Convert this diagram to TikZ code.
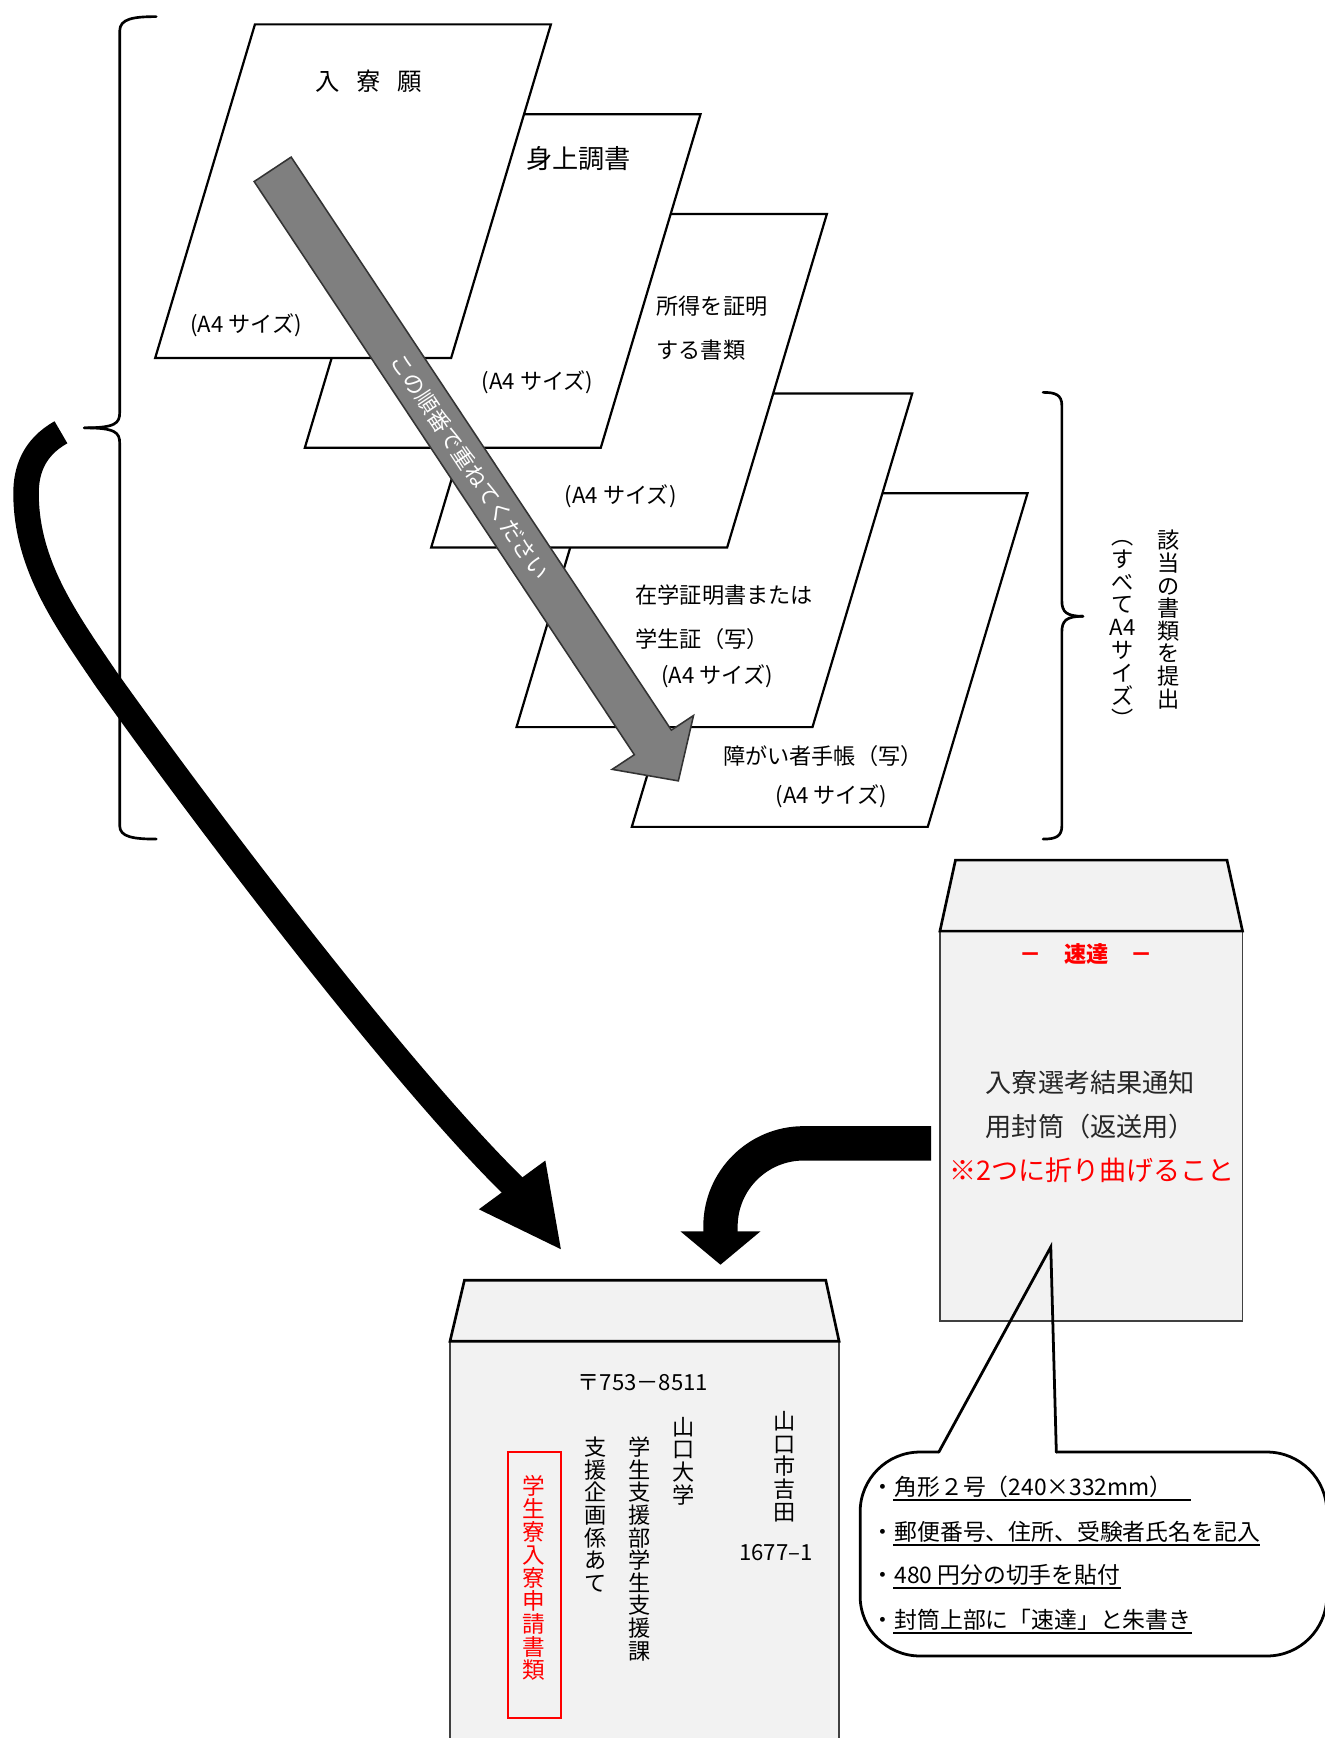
\documentclass[tikz,border=0pt]{standalone}
\usepackage{fontspec}
\setmainfont{Noto Sans CJK JP}
\definecolor{envgray}{HTML}{F2F2F2}
\definecolor{arrowgray}{HTML}{7F7F7F}
\definecolor{redtxt}{HTML}{FF0000}
\definecolor{softblack}{HTML}{262626}
\newcommand{\docsheet}[2]{\filldraw[sheet] (#1,#2) -- ++(267,0) -- ++(-90,301) -- ++(-267,0) -- cycle;}
\begin{document}
\begin{tikzpicture}[x=0.5pt,y=-0.5pt,
  sheet/.style={draw=black,fill=white,line width=1pt,line join=miter},
  lbl/.style={inner sep=0pt,font=\fontsize{10}{12}\selectfont},
  vt/.style={align=center,inner sep=0pt,anchor=north,font=\fontsize{10}{10.2}\selectfont},
  bracket/.style={draw=black,line width=1.2pt,line cap=round},
  envbody/.style={fill=envgray,draw=black!75,line width=0.8pt},
  envflap/.style={fill=envgray,draw=black,line width=1.2pt,line join=miter},
  calloutline/.style={draw=black,line width=1.25pt,line cap=round,line join=miter},
  noteline/.style={inner sep=0pt,anchor=base west,font=\fontsize{10.3}{12}\selectfont},
  uline/.style={draw=black,line width=0.9pt}]
\useasboundingbox (0,0) rectangle (1195,1568);

% ---------- braces ----------
\draw[bracket] (141,15) .. controls (120,15) and (108,17) .. (108,28) -- (108,372) .. controls (108,382) and (104,386) .. (76,386);
\draw[bracket] (76,386) .. controls (104,386) and (108,390) .. (108,400) -- (108,745) .. controls (108,755) and (120,757) .. (141,757);
\draw[bracket] (941,354) .. controls (952,354) and (958,356) .. (958,366) -- (958,542) .. controls (958,552) and (962,556) .. (977,556);
\draw[bracket] (977,556) .. controls (962,556) and (958,560) .. (958,570) -- (958,745) .. controls (958,755) and (952,757) .. (941,757);

% ---------- sheets (back to front) ----------
\docsheet{660}{445}
\docsheet{556}{355}
\docsheet{479}{193}
\docsheet{365}{103}
\docsheet{230}{22}

% sheet 1
\node[lbl,font=\fontsize{11}{13}\selectfont] (s1title) at (333,73) {入\hspace{7.5pt}寮\hspace{7.5pt}願};
\node[lbl] (s1size) at (222,293) {(A4 サイズ)};
% sheet 2
\node[lbl,font=\fontsize{11.8}{13}\selectfont] (s2title) at (522,143) {身上調書};
\node[lbl] (s2size) at (485,345) {(A4 サイズ)};
% sheet 3
\node[lbl,anchor=west] (s3a) at (592,276) {所得を証明};
\node[lbl,anchor=west] (s3b) at (592,316) {する書類};
\node[lbl] (s3size) at (560,448) {(A4 サイズ)};
% sheet 4
\node[lbl,anchor=west] (s4a) at (573,537) {在学証明書または};
\node[lbl,anchor=west] (s4b) at (573,577) {学生証（写）};
\node[lbl] (s4size) at (647,610) {(A4 サイズ)};
% sheet 5
\node[lbl,anchor=west] (s5a) at (652,682) {障がい者手帳（写）};
\node[lbl] (s5size) at (750,718) {(A4 サイズ)};

% ---------- gray order arrow ----------
\filldraw[fill=arrowgray,draw=black!80,line width=0.7pt,line join=miter]
  (262.7,141.7) -- (605.7,658.7) -- (625.7,645.5) -- (612,704.5) -- (552.3,694.1) -- (572.3,680.9) -- (229.3,163.8) -- cycle;
\node[lbl,text=white,rotate=-56.4] (ordertxt) at (424,421) {この順番で重ねてください};

% ---------- right side vertical note ----------
\node[vt] (note1) at (1054,478) {該\\当\\の\\書\\類\\を\\提\\出};
\node[vt,font=\fontsize{10}{10.3}\selectfont] (note2) at (1013,487) {︵\\す\\べ\\て\\A4\\サ\\イ\\ズ\\︶};

% ---------- big curved arrow (documents -> envelope) ----------
\coordinate (bigstart) at (55,390);
\coordinate (bigend) at (466,1073);
\draw[draw=black,line width=11.5pt] (bigstart) .. controls (30,404) and (23.5,425) .. (23.5,445)
   .. controls (23.5,510) and (60,560) .. (96,613)
   .. controls (190,745) and (365,975) .. (bigend);
\fill[black] (432,1091) -- (506,1127) -- (492,1047) -- cycle;

% ---------- return envelope ----------
\filldraw[envbody] (848,840) rectangle (1121,1192);
\filldraw[envflap] (848,840) -- (862,776) -- (1107,776) -- (1121,840) -- cycle;
\node[lbl,text=redtxt,font=\fontsize{10}{12}\selectfont\bfseries] (sokutatsu) at (980,861) {－　速達　－};
\node[lbl,anchor=west,text=softblack,font=\fontsize{11.8}{13}\selectfont] (ret1) at (889,977) {入寮選考結果通知};
\node[lbl,anchor=west,text=softblack,font=\fontsize{11.8}{13}\selectfont] (ret2) at (889,1016) {用封筒（返送用）};
\node[lbl,text=redtxt,font=\fontsize{12.2}{14}\selectfont] (ret3) at (985,1056) {※2つに折り曲げること};

% ---------- small curved arrow (return envelope -> envelope) ----------
\coordinate (smallstart) at (840,1031.5);
\coordinate (smallend) at (650,1113);
\draw[draw=black,line width=15.5pt] (smallstart) -- (725,1031.5)
   .. controls (683.6,1031.5) and (650,1065.1) .. (650,1106.5) -- (smallend);
\fill[black] (614,1111) -- (686,1111) -- (650,1141) -- cycle;

% ---------- main envelope ----------
\filldraw[envbody,line width=1pt] (406,1210) rectangle (757,1585);
\filldraw[envflap] (406,1210) -- (419,1155) -- (745,1155) -- (757,1210) -- cycle;
\node[lbl] (zip) at (580,1247) {〒753－8511};
\node[vt] (addr1) at (707.5,1273) {山\\口\\市\\吉\\田};
\node[lbl] (addr2) at (700,1401) {1677–1};
\node[vt] (univ) at (617,1278) {山\\口\\大\\学};
\node[vt] (dept) at (577,1296) {学\\生\\支\\援\\部\\学\\生\\支\\援\\課};
\node[vt] (sect) at (537.5,1296) {支\\援\\企\\画\\係\\あ\\て};
\draw[draw=redtxt,line width=0.8pt] (458,1310) rectangle (506,1550);
\node[vt,text=redtxt,font=\fontsize{10.2}{10.35}\selectfont] (redlabel) at (482,1331) {学\\生\\寮\\入\\寮\\申\\請\\書\\類};

% ---------- callout ----------
\draw[calloutline,rounded corners=27] (953,1310) -- (1197,1310) -- (1197,1494) -- (776,1494) -- (776,1310) -- (847,1310);
\coordinate (pointertip) at (948,1125);
\draw[calloutline] (847,1310) -- (pointertip) -- (953,1310);
\node[noteline] (n1) at (786,1349) {・角形２号（240×332mm）};
\node[noteline] (n2) at (786,1390) {・郵便番号、住所、受験者氏名を記入};
\node[noteline] (n3) at (786,1429) {・480 円分の切手を貼付};
\node[noteline] (n4) at (786,1469) {・封筒上部に「速達」と朱書き};
\draw[uline] ([xshift=10pt,yshift=-2pt]n1.base west) -- ([xshift=8pt,yshift=-2pt]n1.base east);
\draw[uline] ([xshift=10pt,yshift=-2pt]n2.base west) -- ([yshift=-2pt]n2.base east);
\draw[uline] ([xshift=10pt,yshift=-2pt]n3.base west) -- ([yshift=-2pt]n3.base east);
\draw[uline] ([xshift=10pt,yshift=-2pt]n4.base west) -- ([yshift=-2pt]n4.base east);
\end{tikzpicture}
\end{document}
